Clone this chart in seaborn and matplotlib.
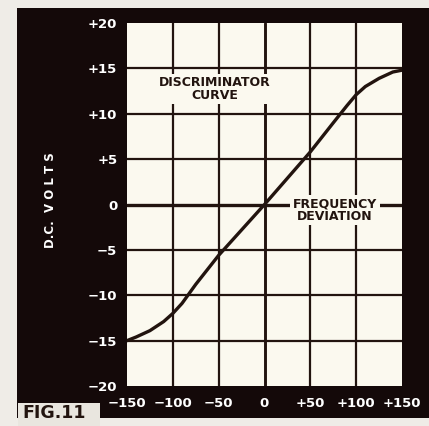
import matplotlib
matplotlib.use("Agg")
import matplotlib.pyplot as plt
from matplotlib.patches import Rectangle
import pandas as pd
import seaborn as sns

# Discriminator output (D.C. volts) against frequency deviation (kc)
freq = [-150, -140, -125, -110, -100, -90, -75, -50, -25, 0,
        25, 50, 75, 90, 100, 110, 125, 140, 150]
volts = [-15.0, -14.6, -13.9, -12.9, -12.0, -10.9, -8.8, -5.6, -2.8, 0.0,
         2.9, 5.8, 9.0, 10.9, 12.1, 13.0, 13.9, 14.6, 14.8]

x_ticks = [-150, -100, -50, 0, 50, 100, 150]
x_labels = ["\u2212150", "\u2212100", "\u221250", "0", "+50", "+100", "+150"]
y_ticks = [-20, -15, -10, -5, 0, 5, 10, 15, 20]
y_labels = ["\u221220", "\u221215", "\u221210", "\u22125", "0", "+5", "+10", "+15", "+20"]

df = pd.DataFrame({"freq": freq, "volts": volts})

sns.set_theme(style="white")
plt.rcParams["font.family"] = ["DejaVu Sans"]

INK = "#22140f"
PAPER = "#fbf9ef"
FRAME = "#140909"

fig = plt.figure(figsize=(4.29, 4.26), dpi=100, facecolor="#efece7")

# black mount behind the chart
mount = Rectangle((17 / 429, 1 - 418 / 426), 1.0, (418 - 8) / 426,
                  transform=fig.transFigure, facecolor=FRAME,
                  edgecolor="none", zorder=-5)
fig.patches.append(mount)

ax = fig.add_axes([127 / 429, 1 - 386 / 426, 275 / 429, 363 / 426])
ax.set_zorder(5)
ax.set_facecolor(PAPER)

# grid
for xv in x_ticks[1:-1]:
    ax.axvline(xv, color=INK, lw=2.1 if xv == 0 else 1.6, zorder=1)
for yv in y_ticks[1:-1]:
    ax.axhline(yv, color=INK, lw=2.4 if yv == 0 else 1.6, zorder=1)

sns.lineplot(data=df, x="freq", y="volts", ax=ax, color=INK, lw=2.4,
             zorder=4, sort=True)

ax.set_xlim(-150, 150)
ax.set_ylim(-20, 20)
ax.set_xticks(x_ticks)
ax.set_xticklabels(x_labels)
ax.set_yticks(y_ticks)
ax.set_yticklabels(y_labels)
ax.tick_params(axis="both", length=0, colors="white", labelsize=9.5)
ax.tick_params(axis="x", pad=8)
ax.tick_params(axis="y", pad=7)
for lab in ax.get_xticklabels() + ax.get_yticklabels():
    lab.set_fontweight("bold")
ax.set_xlabel("")
ax.set_ylabel("")
for s in ax.spines.values():
    s.set_visible(False)

label_box = dict(boxstyle="square,pad=0.2", facecolor=PAPER, edgecolor="none")
ax.text(-54, 12.7, "DISCRIMINATOR\nCURVE", ha="center", va="center",
        fontsize=9, fontweight="bold", color=INK, linespacing=0.95,
        bbox=label_box, zorder=3)
ax.text(77, -0.6, "FREQUENCY\nDEVIATION", ha="center", va="center",
        fontsize=9, fontweight="bold", color=INK, linespacing=0.95,
        bbox=label_box, zorder=3)

fig.text(50 / 429, 1 - 200 / 426, "D.C.  V O L T S", rotation=90,
         ha="center", va="center", color="white", fontsize=8.5,
         fontweight="bold", zorder=6)

# figure number tab
fig.patches.append(Rectangle((18 / 429, 0), 82 / 429, 23 / 426,
                             transform=fig.transFigure, facecolor="#e9e6df",
                             edgecolor="none", zorder=-4))
fig.text(22 / 429, 1 - 413 / 426, "FIG.11", ha="left", va="center",
         color=INK, fontsize=12.5, fontweight="bold", zorder=6)

fig.savefig("out.png", dpi=100, facecolor=fig.get_facecolor())
